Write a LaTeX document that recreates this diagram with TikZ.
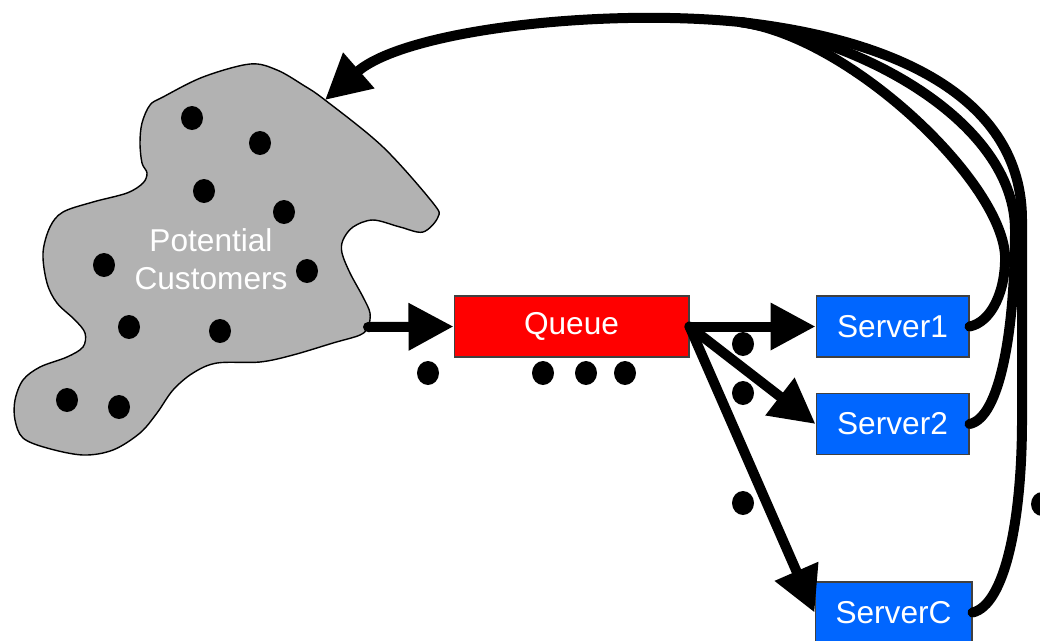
\documentclass[tikz,border=0pt]{standalone}
\usepackage{fontspec}
\setmainfont{Liberation Sans}
\usetikzlibrary{arrows.meta, positioning}
\definecolor{cloudgray}{RGB}{178,178,178}
\definecolor{servblue}{RGB}{0,102,255}
\tikzset{
    flow/.style={line width=0.2cm, line cap=round, -{Triangle[length=0.9cm, width=0.9cm]}},
    back/.style={line width=0.2cm, line cap=round},
    box/.style={draw=black!75, line width=0.6pt, text=white, minimum height=1.22cm, inner sep=0pt},
    queuebox/.style={box, fill=red, minimum width=4.7cm},
    serverbox/.style={box, fill=servblue, minimum width=3.06cm},
    crowd/.style={fill=cloudgray, draw=black, line width=0.8pt},
    textnode/.style={text=white, align=center}}

\begin{document}
\begin{tikzpicture}
[x=0.02cm, y=-0.02cm, font=\fontsize{18}{21.6}\selectfont]
\useasboundingbox (0,0) rectangle (1040,640);

% the pool of customers
\draw[crowd] plot[smooth cycle, tension=0.55] coordinates {
  (203,77) (250,64) (277,70) (303,85) (325,100) (383,147) (433,203) (438,217)
  (423,232) (400,227) (373,220) (353,227) (343,240) (342,253) (350,273) (363,297)
  (370,313) (368,327) (360,335) (333,343) (293,355) (260,362) (217,363) (193,373)
  (173,390) (157,413) (140,433) (113,450) (83,455) (47,448) (23,438) (15,420)
  (15,400) (23,380) (40,367) (67,357) (83,347) (85,333) (75,320) (57,303)
  (47,283) (43,253) (50,227) (63,212) (93,202) (127,193) (143,183) (147,173)
  (142,163) (140,143) (142,123) (150,105) (163,97)};
\coordinate (out) at (368,327);
\coordinate (tip) at (325,100);
\coordinate (merge) at (740,22);
\node[textnode] (pool) at (211,259) {Potential\\Customers};

\node[queuebox] (q) at (571.5,326.5) {Queue};
\node[serverbox] (s1) at (892.5,326.5) {Server1};
\node[serverbox] (s2) at (892.5,424) {Server2};
\node[serverbox, minimum width=3.14cm] (sc) at (893.5,612.5) {ServerC};

% customers
\foreach \p in {(192,118),(260,143),(204,191),(284,212),(104,265),(307,271),
                (129,327),(220,331),(67,400),(119,407),
                (428,373),(543,373),(586,373),(625,373),
                (743,344),(743,393),(743,503),(1042,504)}
  \fill \p ellipse (0.22cm and 0.24cm);

\draw[flow] (out) -- (q.west);
\draw[flow] (q.east) -- (s1.west);
\draw[flow] (q.east) -- (s2.west);
\draw[flow] (q.east) -- (sc.west);

% back to the pool
\draw[back] (s1.east) .. controls (992,322) and (1006,290) .. (1005,255)
            .. controls (1000,180) and (850,37) .. (merge);
\draw[back] (s2.east) .. controls (1000,418) and (1015,330) .. (1015,230)
            .. controls (1015,130) and (880,45) .. (merge);
\draw[back] (sc.east) .. controls (1005,605) and (1022,520) .. (1022,420)
            -- (1022,220) .. controls (1022,100) and (900,40) .. (merge);
\draw[flow] (merge) .. controls (600,8) and (405,30) .. (tip);
\end{tikzpicture}
\end{document}
